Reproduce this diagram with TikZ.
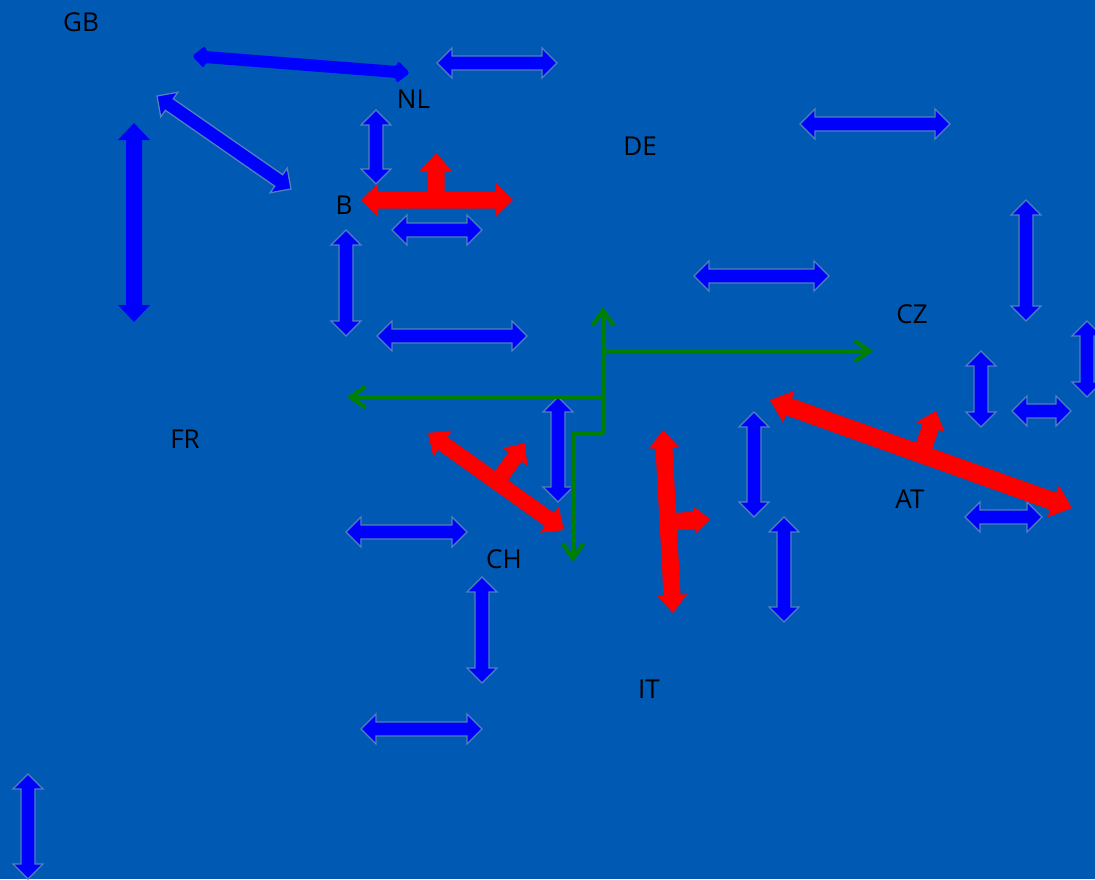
\documentclass[tikz,border=0pt]{standalone}
\usepackage{fontspec}
\setmainfont{Open Sans}
\usetikzlibrary{arrows.meta}

\definecolor{mapbg}{RGB}{0,89,179}
\definecolor{linkblue}{RGB}{0,0,255}
\definecolor{linkedge}{RGB}{79,129,189}
\definecolor{loopred}{RGB}{255,0,0}
\definecolor{loopgreen}{RGB}{0,128,0}

% double block arrow: style, x1, y1, x2, y2, shaft half, head half, head length
\newcommand{\dblarrow}[8]{%
  \pgfmathsetmacro{\ang}{atan2(-(#5-#3),#4-#2)}%
  \pgfmathsetmacro{\len}{veclen(#4-#2,#5-#3)}%
  \begin{scope}[shift={(#2,#3)},rotate=\ang]
    \path[#1] (0,0) -- (#8,#7) -- (#8,#6) -- (\len-#8,#6) -- (\len-#8,#7)
      -- (\len,0) -- (\len-#8,-#7) -- (\len-#8,-#6) -- (#8,-#6) -- (#8,-#7) -- cycle;
  \end{scope}}
% single block arrow, flat tail at (x1,y1)
\newcommand{\sglarrow}[8]{%
  \pgfmathsetmacro{\ang}{atan2(-(#5-#3),#4-#2)}%
  \pgfmathsetmacro{\len}{veclen(#4-#2,#5-#3)}%
  \begin{scope}[shift={(#2,#3)},rotate=\ang]
    \path[#1] (0,#6) -- (\len-#8,#6) -- (\len-#8,#7) -- (\len,0)
      -- (\len-#8,-#7) -- (\len-#8,-#6) -- (0,-#6) -- cycle;
  \end{scope}}
\newcommand{\link}[4]{\dblarrow{link}{#1}{#2}{#3}{#4}{7}{15}{15}}

\tikzset{
  link/.style={fill=linkblue, draw=linkedge, line width=1.3pt, line join=miter},
  heavylink/.style={fill=linkblue},
  redflow/.style={fill=loopred},
  greenflow/.style={draw=loopgreen, line width=4pt, line join=miter,
    -{Straight Barb[length=15pt,width=21pt]}},
  country/.style={font=\fontsize{26}{31}\selectfont, text=black, inner sep=0pt}
}

\begin{document}
\begin{tikzpicture}[x=1pt,y=-1pt]
\useasboundingbox (0,0) rectangle (1095,879);
\clip (0,0) rectangle (1095,879);
\fill[mapbg] (0,0) rectangle (1095,879);

% heavy links
\dblarrow{heavylink, rounded corners=3pt}{192}{56}{410}{73}{6}{11.5}{13}
\dblarrow{heavylink}{134}{123}{134}{322}{8}{16}{17}

% border links
\link{437}{63}{557}{63}
\link{157}{96}{291}{189}
\link{376}{110}{376}{184}
\link{392}{230}{482}{230}
\link{346}{230}{346}{336}
\link{377}{336}{527}{336}
\link{800}{124}{950}{124}
\link{1026}{200}{1026}{321}
\link{694}{276}{829}{276}
\link{1087}{321}{1087}{397}
\link{981}{351}{981}{427}
\link{1012}{411}{1071}{411}
\link{558}{397}{558}{502}
\link{754}{412}{754}{517}
\link{346}{532}{467}{532}
\link{965}{517}{1042}{517}
\link{784}{517}{784}{622}
\link{482}{577}{482}{683}
\link{361}{729}{482}{729}
\link{28}{774}{28}{879}

% loop flows
\dblarrow{redflow}{361}{200}{513}{200}{8.5}{16.5}{17}
\sglarrow{redflow}{436}{195}{436}{153}{8.5}{16}{18}
\dblarrow{redflow}{428}{433}{564}{530}{8}{16}{18}
\sglarrow{redflow}{497}{482}{525}{443}{8}{15}{17}
\dblarrow{redflow}{663}{430}{673}{613}{8.5}{15}{18}
\sglarrow{redflow}{668}{522}{710}{519}{8.5}{14}{16}
\dblarrow{redflow}{770}{400}{1072}{508}{9}{17}{20}
\sglarrow{redflow}{922}{452}{936}{411}{8.5}{15}{17}

% transit paths
\coordinate (gJ) at (603,434);
\coordinate (gUp) at (603,307);
\coordinate (gR0) at (603,351);
\coordinate (gRight) at (873,351);
\coordinate (gL0) at (603,397);
\coordinate (gLeft) at (347,397);
\coordinate (gDown) at (573,562);
\draw[greenflow] (gJ) -- (gUp);
\draw[greenflow] (gR0) -- (gRight);
\draw[greenflow] (gL0) -- (gLeft);
\draw[greenflow] (gJ) -| (gDown);

% countries
\node[country] (gb) at (81,22.5) {GB};
\node[country] (nl) at (413.5,99) {NL};
\node[country] (de) at (640,146) {DE};
\node[country] (b)  at (344,205) {B};
\node[country] (cz) at (912,314.5) {CZ};
\node[country] (fr) at (185,439) {FR};
\node[country] (at) at (910,499.5) {AT};
\node[country] (ch) at (504,559.5) {CH};
\node[country] (it) at (649,689) {IT};
\end{tikzpicture}
\end{document}
